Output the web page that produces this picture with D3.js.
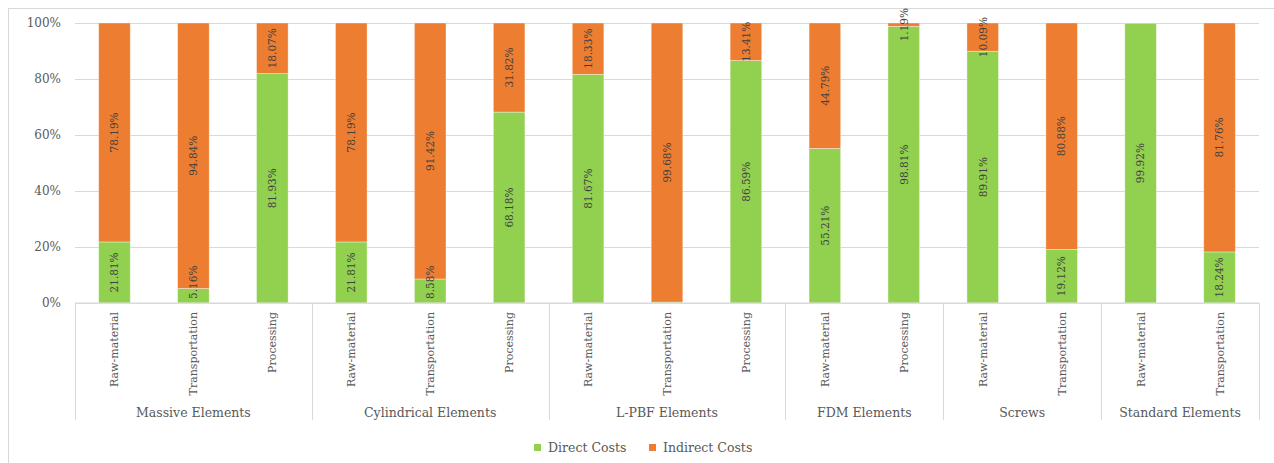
<!DOCTYPE html>
<html>
<head>
<meta charset="utf-8">
<script src="https://cdn.jsdelivr.net/npm/d3@7/dist/d3.min.js"></script>
<style>
  html, body { margin: 0; padding: 0; background: #fff; }
  svg { display: block; }
  text { font-family: "DejaVu Serif", "Liberation Serif", serif; }
</style>
</head>
<body>
<svg id="chart" width="1274" height="463"></svg>
<script>
// Cost breakdown per element group and cost source (percent of total)
const groups = ["Massive Elements", "Cylindrical Elements", "L-PBF Elements", "FDM Elements", "Screws", "Standard Elements"];
const categories = [
  ["Massive Elements", "Raw-material"], ["Massive Elements", "Transportation"], ["Massive Elements", "Processing"],
  ["Cylindrical Elements", "Raw-material"], ["Cylindrical Elements", "Transportation"], ["Cylindrical Elements", "Processing"],
  ["L-PBF Elements", "Raw-material"], ["L-PBF Elements", "Transportation"], ["L-PBF Elements", "Processing"],
  ["FDM Elements", "Raw-material"], ["FDM Elements", "Processing"],
  ["Screws", "Raw-material"], ["Screws", "Transportation"],
  ["Standard Elements", "Raw-material"], ["Standard Elements", "Transportation"]
];
const directCosts   = [21.81, 5.16, 81.93, 21.81, 8.58, 68.18, 81.67, 0.32, 86.59, 55.21, 98.81, 89.91, 19.12, 99.92, 18.24];
const indirectCosts = [78.19, 94.84, 18.07, 78.19, 91.42, 31.82, 18.33, 99.68, 13.41, 44.79, 1.19, 10.09, 80.88, 0.08, 81.76];
const seriesNames = ["Direct Costs", "Indirect Costs"];
const yTicks = [0, 20, 40, 60, 80, 100];

const colors = { "Direct Costs": "#92D050", "Indirect Costs": "#ED7D31" };

const svg = d3.select("#chart");
const W = 1274, H = 463;
const m = { left: 75, right: 1259, top: 23, bottom: 303 };

// chart frame
svg.append("rect")
  .attr("x", 8.5).attr("y", 8.5)
  .attr("width", W + 20).attr("height", H + 20)
  .attr("fill", "none").attr("stroke", "#d9d9d9").attr("stroke-width", 1);

const table = categories.map((c, i) => ({
  idx: i, group: c[0], name: c[1],
  "Direct Costs": directCosts[i], "Indirect Costs": indirectCosts[i]
}));

const x = d3.scaleBand()
  .domain(table.map(d => d.idx))
  .range([m.left, m.right])
  .paddingInner(0.6)
  .paddingOuter(0.3);

const y = d3.scaleLinear().domain([0, 100]).range([m.bottom, m.top]);

// gridlines + y labels
const yAxis = d3.axisLeft(y)
  .tickValues(yTicks)
  .tickSize(-(m.right - m.left))
  .tickPadding(14)
  .tickFormat(d => d + "%");
const gy = svg.append("g").attr("transform", `translate(${m.left},0)`).call(yAxis);
gy.select(".domain").remove();
gy.selectAll(".tick line").attr("stroke", "#d9d9d9").attr("stroke-width", 1);
gy.selectAll(".tick text")
  .attr("fill", "#595959")
  .style("font-size", "12px")
  .style("font-family", "DejaVu Serif, serif");

// stacked bars
const stack = d3.stack().keys(seriesNames);
const layers = stack(table);

const gBars = svg.append("g");
layers.forEach(layer => {
  gBars.append("g")
    .selectAll("rect")
    .data(layer)
    .join("rect")
    .attr("x", d => x(d.data.idx))
    .attr("width", x.bandwidth())
    .attr("y", d => y(d[1]))
    .attr("height", d => y(d[0]) - y(d[1]))
    .attr("fill", colors[layer.key])
    .attr("stroke", "#ffffff")
    .attr("stroke-opacity", 0.45)
    .attr("stroke-width", 0.8);
});

// value labels, rotated and centred in each segment
const gLab = svg.append("g");
layers.forEach(layer => {
  layer.forEach(d => {
    const v = d.data[layer.key];
    if (v < 1) return;
    const cx = x(d.data.idx) + x.bandwidth() / 2;
    let cy = (y(d[0]) + y(d[1])) / 2;
    const t = gLab.append("text")
      .attr("text-anchor", "middle")
      .attr("dy", "0.36em")
      .attr("fill", "#404040")
      .style("font-size", "10.5px")
      .text(v.toFixed(2) + "%");
    const half = t.node().getComputedTextLength() / 2;
    if (cy + half > m.bottom - 4) cy = m.bottom - 4 - half;
    t.attr("transform", `translate(${cx},${cy}) rotate(-90)`);
  });
});

// category axis (two levels)
const gx = svg.append("g");
gx.append("line")
  .attr("x1", m.left).attr("x2", m.right)
  .attr("y1", y(0)).attr("y2", y(0))
  .attr("stroke", "#d9d9d9");

gx.selectAll("text.cat")
  .data(table)
  .join("text")
  .attr("class", "cat")
  .attr("text-anchor", "end")
  .attr("dy", "0.36em")
  .attr("fill", "#595959")
  .style("font-size", "11px")
  .attr("transform", d => `translate(${x(d.idx) + x.bandwidth() / 2},${m.bottom + 9}) rotate(-90)`)
  .text(d => d.name);

const step = x.step();
const groupSpans = groups.map(g => {
  const idxs = table.filter(d => d.group === g).map(d => d.idx);
  const x0 = x(idxs[0]) - step * x.paddingInner() / 2;
  const x1 = x(idxs[idxs.length - 1]) + x.bandwidth() + step * x.paddingInner() / 2;
  return { g, x0: Math.max(m.left, x0), x1: Math.min(m.right, x1) };
});

const bounds = [m.left].concat(groupSpans.map(s => s.x1));
gx.selectAll("line.sep")
  .data(bounds)
  .join("line")
  .attr("class", "sep")
  .attr("x1", d => Math.round(d) + 0.5).attr("x2", d => Math.round(d) + 0.5)
  .attr("y1", m.bottom).attr("y2", 420)
  .attr("stroke", "#d9d9d9");

gx.selectAll("text.grp")
  .data(groupSpans)
  .join("text")
  .attr("class", "grp")
  .attr("text-anchor", "middle")
  .attr("x", d => (d.x0 + d.x1) / 2)
  .attr("y", 417)
  .attr("fill", "#595959")
  .style("font-size", "12.5px")
  .text(d => d.g);

// legend
const legend = svg.append("g");
const legendItems = [
  { key: "Direct Costs", x: 534 },
  { key: "Indirect Costs", x: 649 }
];
legendItems.forEach(it => {
  legend.append("rect")
    .attr("x", it.x).attr("y", 444)
    .attr("width", 7).attr("height", 7)
    .attr("fill", colors[it.key]);
  legend.append("text")
    .attr("x", it.x + 14).attr("y", 452)
    .attr("fill", "#595959")
    .style("font-size", "12.5px")
    .text(it.key);
});
</script>
</body>
</html>
